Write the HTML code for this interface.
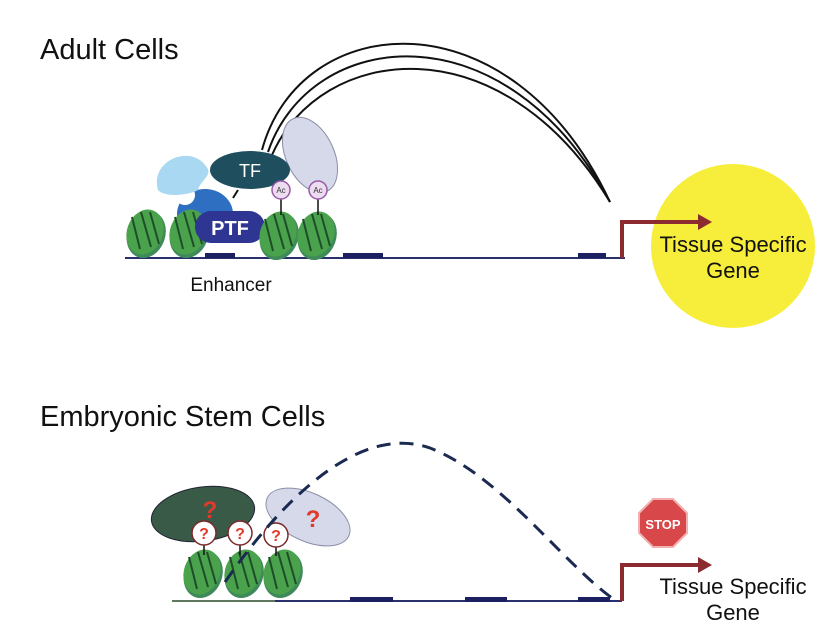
<!DOCTYPE html>
<html><head><style>body{margin:0;background:#fff}svg{display:block}text{font-family:"Liberation Sans",sans-serif}</style></head><body>
<svg width="836" height="644" viewBox="0 0 836 644">
<defs>
<g id="nuc">
<ellipse cx="2" cy="2" rx="19" ry="24" fill="#3e8a5a" transform="rotate(20)"/>
<ellipse cx="0" cy="0" rx="18" ry="23" fill="#4aa24c" transform="rotate(20)"/>
<path d="M-13,-15 l8,32 M-4,-20 l10,35 M5,-20 l9,32" stroke="#1e4d2a" stroke-width="2" fill="none"/>
</g>
</defs>
<text x="40" y="59" font-size="29" fill="#111">Adult Cells</text>
<g fill="none" stroke="#111" stroke-width="2">
<path d="M262,150 C300,10 510,-10 610,202"/>
<path d="M268,152 C310,28 505,5 610,202"/>
<path d="M272,155 C320,45 500,20 610,202"/>
</g>
<line x1="125" y1="258" x2="625" y2="258" stroke="#2a2f6e" stroke-width="2"/>
<rect x="205" y="253" width="30" height="5" fill="#1c2060"/>
<rect x="343" y="253" width="40" height="5" fill="#1c2060"/>
<rect x="578" y="253" width="28" height="5" fill="#1c2060"/>
<circle cx="733" cy="246" r="82" fill="#f6ee3a"/>
<path d="M622,258 V222 H700" stroke="#8b2a2f" stroke-width="4" fill="none"/>
<path d="M698,214 L712,222 L698,230Z" fill="#8b2a2f"/>
<text x="733" y="252" font-size="22" text-anchor="middle" fill="#111">Tissue Specific</text>
<text x="733" y="278" font-size="22" text-anchor="middle" fill="#111">Gene</text>
<ellipse cx="310" cy="155" rx="24" ry="40" fill="#d6d9ea" stroke="#8a8ea8" transform="rotate(-25 310 155)"/>
<ellipse cx="205" cy="214" rx="28" ry="25" fill="#2e6fc2"/>
<circle cx="185" cy="195" r="10" fill="#fff"/>
<path d="M158,190 C150,160 190,145 205,165 C215,175 200,180 198,190 C190,195 165,198 158,190Z" fill="#a8d8f2"/>
<use href="#nuc" x="145" y="232"/>
<use href="#nuc" x="188" y="232"/>
<rect x="195" y="211" width="70" height="32" rx="16" fill="#2e3592"/>
<text x="230" y="235" font-size="20" font-weight="bold" fill="#fff" text-anchor="middle">PTF</text>
<use href="#nuc" x="278" y="234"/>
<use href="#nuc" x="316" y="234"/>
<line x1="281" y1="198" x2="281" y2="215" stroke="#111" stroke-width="1.5"/>
<line x1="318" y1="198" x2="318" y2="215" stroke="#111" stroke-width="1.5"/>
<ellipse cx="250" cy="170" rx="40" ry="19" fill="#1f4e5f"/>
<text x="250" y="177" font-size="18" fill="#fff" text-anchor="middle">TF</text>
<line x1="238" y1="190" x2="233" y2="198" stroke="#111" stroke-width="2"/>
<circle cx="281" cy="190" r="9" fill="#ecdcf0" stroke="#9a5aa8" stroke-width="1.5"/>
<circle cx="318" cy="190" r="9" fill="#ecdcf0" stroke="#9a5aa8" stroke-width="1.5"/>
<text x="281" y="193" font-size="8" text-anchor="middle" fill="#333">Ac</text>
<text x="318" y="193" font-size="8" text-anchor="middle" fill="#333">Ac</text>
<text x="231" y="291" font-size="19" text-anchor="middle" fill="#111">Enhancer</text>

<text x="40" y="426" font-size="29" fill="#111">Embryonic Stem Cells</text>
<line x1="172" y1="601" x2="275" y2="601" stroke="#2a4a2a" stroke-width="1.5"/>
<line x1="275" y1="601" x2="622" y2="601" stroke="#2a2f6e" stroke-width="2"/>
<rect x="350" y="597" width="43" height="5" fill="#1c2060"/>
<rect x="465" y="597" width="42" height="5" fill="#1c2060"/>
<rect x="578" y="597" width="32" height="5" fill="#1c2060"/>
<ellipse cx="203" cy="514" rx="52" ry="27" fill="#3a5a48" stroke="#223" stroke-width="1" transform="rotate(-8 203 514)"/>
<text x="210" y="518" font-size="24" font-weight="bold" fill="#e23a2a" text-anchor="middle">?</text>
<ellipse cx="308" cy="517" rx="45" ry="24" fill="#d6d9ea" stroke="#8a8ea8" transform="rotate(25 308 517)"/>
<text x="313" y="527" font-size="24" font-weight="bold" fill="#e23a2a" text-anchor="middle">?</text>
<use href="#nuc" x="202" y="572"/>
<use href="#nuc" x="243" y="572"/>
<use href="#nuc" x="282" y="572"/>
<line x1="204" y1="544" x2="204" y2="555" stroke="#111" stroke-width="1.5"/>
<line x1="240" y1="544" x2="240" y2="555" stroke="#111" stroke-width="1.5"/>
<line x1="276" y1="546" x2="276" y2="556" stroke="#111" stroke-width="1.5"/>
<g fill="#fff" stroke="#7a2a2a" stroke-width="1.5">
<circle cx="204" cy="533" r="12"/><circle cx="240" cy="533" r="12"/><circle cx="276" cy="535" r="12"/>
</g>
<g font-size="16" font-weight="bold" fill="#e23a2a" text-anchor="middle">
<text x="204" y="539">?</text><text x="240" y="539">?</text><text x="276" y="541">?</text>
</g>
<path d="M225,582 C310,460 380,430 430,448 C500,475 560,560 612,598" fill="none" stroke="#1a2a50" stroke-width="3" stroke-dasharray="14,9"/>
<path d="M622,601 V565 H700" stroke="#8b2a2f" stroke-width="4" fill="none"/>
<path d="M698,557 L712,565 L698,573Z" fill="#8b2a2f"/>
<polygon points="653,499 673,499 687,513 687,533 673,547 653,547 639,533 639,513" fill="#d8474a" stroke="#f2b0b0" stroke-width="2"/>
<text x="663" y="529" font-size="13" font-weight="bold" fill="#fff" text-anchor="middle">STOP</text>
<text x="733" y="594" font-size="22" text-anchor="middle" fill="#111">Tissue Specific</text>
<text x="733" y="620" font-size="22" text-anchor="middle" fill="#111">Gene</text>
</svg>
</body></html>
